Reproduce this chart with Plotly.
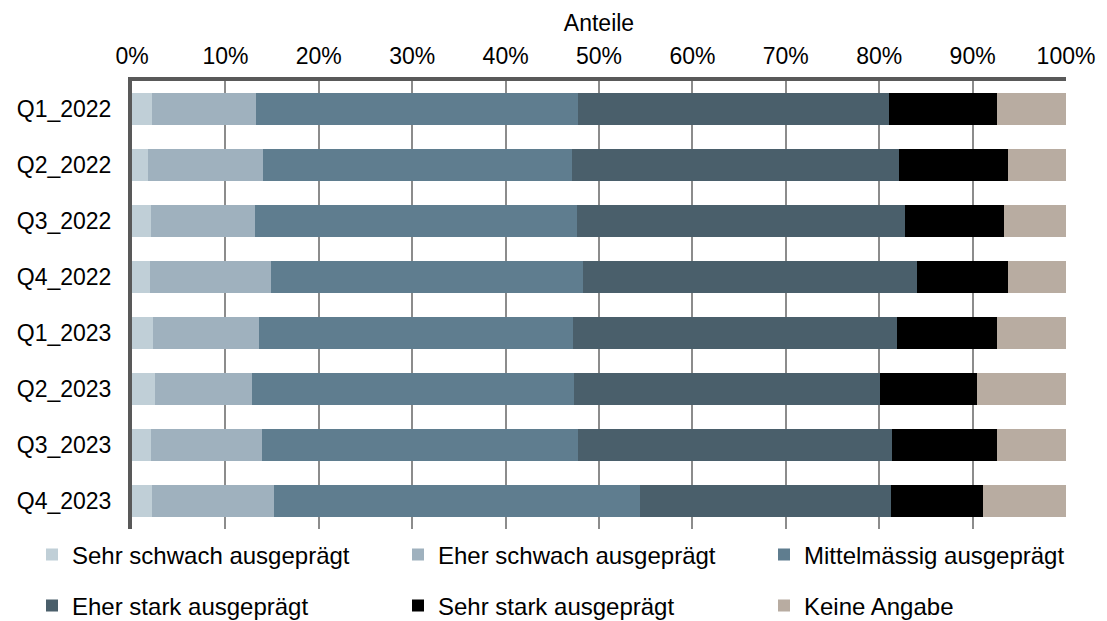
import plotly.graph_objects as go

categories = ["Q1_2022", "Q2_2022", "Q3_2022", "Q4_2022",
              "Q1_2023", "Q2_2023", "Q3_2023", "Q4_2023"]

sehr_schwach = [2.1, 1.7, 2.0, 1.9, 2.2, 2.5, 2.0, 2.1]
eher_schwach = [11.2, 12.3, 11.2, 13.0, 11.4, 10.3, 11.9, 13.1]
mittelmaessig = [34.5, 33.1, 34.4, 33.4, 33.6, 34.5, 33.8, 39.2]
eher_stark = [33.2, 35.0, 35.2, 35.8, 34.7, 32.8, 33.7, 26.9]
sehr_stark = [11.6, 11.7, 10.6, 9.7, 10.7, 10.4, 11.2, 9.8]
keine_angabe = [7.4, 6.2, 6.6, 6.2, 7.4, 9.5, 7.4, 8.9]

series_names = ["Sehr schwach ausgeprägt", "Eher schwach ausgeprägt",
                "Mittelmässig ausgeprägt", "Eher stark ausgeprägt",
                "Sehr stark ausgeprägt", "Keine Angabe"]
series_values = [sehr_schwach, eher_schwach, mittelmaessig,
                 eher_stark, sehr_stark, keine_angabe]
colors = ["#c0cfd7", "#9fb1be", "#5f7d8f", "#4a5f6b", "#000000", "#b8aca1"]

FONT = "Liberation Sans, Arial, sans-serif"
FS = 24
FS_AX = 23
W, H = 1107, 621

# legend slot layout (pixel position of text start and row centre)
legend_text_x = [72, 438, 804]
legend_row_y = [555, 606]

fig = go.Figure()
legend_ids = ["legend", "legend2", "legend3", "legend4", "legend5", "legend6"]
for i, (name, vals, col) in enumerate(zip(series_names, series_values, colors)):
    fig.add_trace(go.Bar(
        y=categories,
        x=[v / 100 for v in vals],
        name=name,
        orientation="h",
        marker=dict(color=col, line=dict(width=0)),
        legend=legend_ids[i],
        hovertemplate="%{y}: %{x:.1%}<extra>" + name + "</extra>",
    ))

legend_common = dict(
    orientation="h",
    xref="container", yref="container",
    xanchor="left", yanchor="middle",
    font=dict(family=FONT, size=FS, color="#000000"),
    bgcolor="rgba(0,0,0,0)",
    itemclick=False, itemdoubleclick=False,
)
legend_layouts = {}
for i, lid in enumerate(legend_ids):
    col = i % 3
    row = i // 3
    legend_layouts[lid] = dict(
        x=(legend_text_x[col] - 40) / W,
        y=1 - legend_row_y[row] / H,
        **legend_common,
    )

fig.update_layout(
    width=W, height=H,
    barmode="stack",
    bargap=0.43,
    paper_bgcolor="white",
    plot_bgcolor="white",
    margin=dict(l=132, r=41, t=81, b=92, autoexpand=False),
    font=dict(family=FONT, size=FS, color="#000000"),
    xaxis=dict(
        side="top",
        range=[0, 1],
        tickvals=[i / 10 for i in range(11)],
        tickformat=".0%",
        showgrid=True,
        gridcolor="#8c8c8c",
        gridwidth=2,
        zeroline=False,
        showline=True,
        linecolor="#595959",
        linewidth=4,
        ticks="",
        ticklabelstandoff=4,
        tickfont=dict(family=FONT, size=FS_AX, color="#000000"),
        title=dict(text="Anteile", font=dict(family=FONT, size=FS_AX, color="#000000"),
                   standoff=6),
        fixedrange=True,
    ),
    yaxis=dict(
        autorange="reversed",
        showgrid=False,
        zeroline=False,
        showline=True,
        linecolor="#595959",
        linewidth=4,
        ticks="",
        ticklabelstandoff=12,
        tickfont=dict(family=FONT, size=FS_AX, color="#000000"),
        fixedrange=True,
    ),
    showlegend=True,
    **legend_layouts,
)

fig.write_html(
    "out.html",
    config={"displayModeBar": False},
    post_script="document.body.style.margin='0';document.body.style.padding='0';",
)
